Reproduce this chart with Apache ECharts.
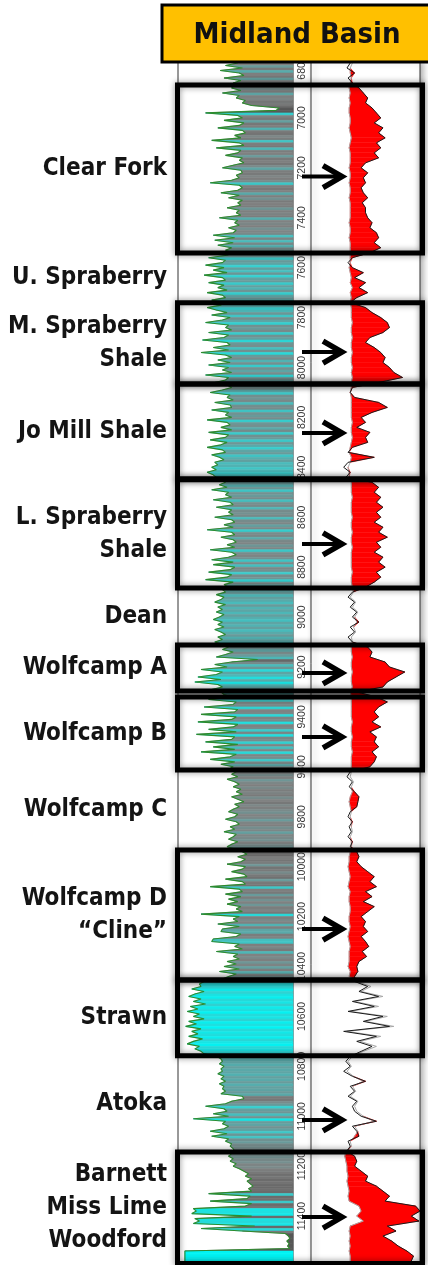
<!DOCTYPE html>
<html><head><meta charset="utf-8">
<script src="https://cdn.jsdelivr.net/npm/echarts@6/dist/echarts.min.js"></script>
<style>html,body{margin:0;padding:0;background:#fff}#c{width:428px;height:1265px}</style>
</head><body><div id="c"></div>
<script>
// ---------------- DATA ----------------
const TITLE = 'Midland Basin';
const GR_START = 6780, GR_STEP = 10;          // depth sampling of GR curve (ft)
const GR = [
 78,62,84,55,80,86,60,82,72,74,
 70,82,58,80,76,88,84,96,132,128,
 36,78,84,60,86,80,52,84,88,74,
 82,44,80,86,50,82,78,62,84,80,
 86,72,58,82,84,76,80,70,42,80,
 84,78,56,80,66,84,78,82,64,80,
 76,82,54,78,74,80,66,76,72,46,
 74,48,72,52,70,62,72,64,40,62,
 58,36,60,46,64,34,58,62,40,60,
 52,64,38,58,62,44,60,56,38,50,
 64,44,68,58,36,66,62,70,40,66,
 60,32,64,68,46,66,30,62,70,52,
 68,40,66,58,70,36,66,62,48,64,
 70,58,42,68,64,72,48,68,70,44,
 66,62,70,38,64,68,56,70,40,66,
 62,42,64,56,38,58,62,44,54,60,
 48,52,44,50,38,46,50,56,62,54,
 64,44,66,62,70,46,68,72,50,70,
 66,72,48,70,74,60,72,38,70,74,
 56,72,76,64,74,42,70,76,66,44,
 72,46,74,68,40,70,64,36,72,60,
 66,58,62,50,60,56,48,62,52,58,
 50,60,54,46,58,52,60,48,56,62,
 52,58,48,60,66,58,72,62,50,104,
 70,48,64,30,58,50,26,56,22,52,
 58,44,56,60,70,40,76,72,34,78,
 74,30,76,70,26,78,72,40,76,24,
 74,70,36,78,46,74,30,76,68,42,
 74,56,72,66,76,70,78,64,74,80,
 72,82,76,84,70,78,86,74,80,72,
 66,78,74,62,76,80,68,74,60,76,
 72,66,78,70,64,76,84,90,78,88,
 82,64,88,84,70,86,90,62,84,88,
 42,80,84,62,82,66,78,64,82,76,
 84,30,80,72,78,52,80,58,56,82,
 76,46,44,80,74,84,50,78,72,80,
 64,76,60,80,54,76,66,58,34,28,
 30,18,34,22,14,30,20,36,16,26,
 12,28,20,34,14,24,10,30,18,26,
 14,32,20,12,28,22,30,34,50,56,
 58,54,60,56,58,52,60,56,62,54,
 60,58,62,56,84,86,70,62,36,60,
 64,46,66,20,62,58,66,60,42,64,
 44,66,62,70,68,72,74,70,66,72,
 68,76,72,80,86,92,88,96,90,94,
 98,92,96,40,94,90,42,96,88,20,
 24,18,96,22,28,20,100,30,84,140,
 144,146,142,145,143,146,9,9,9,9,
 9
];
const RES_START = 6780, RES_STEP = 20;        // depth sampling of resistivity curves (ft)
const RES_DEEP = [
 36,33,40,34,38,44,48,52,50,56,
 60,64,58,66,62,68,60,64,58,62,
 50,46,52,48,50,46,48,52,47,50,
 50,52,56,54,60,62,58,64,54,38,
 34,38,48,40,50,44,52,42,36,50,
 56,64,70,72,66,54,50,58,64,68,
 66,72,76,84,62,38,36,40,62,70,
 56,46,50,42,54,50,52,38,34,58,
 34,30,36,32,56,62,58,64,60,66,
 60,64,58,66,62,70,60,64,58,66,
 62,68,60,64,58,50,38,34,40,36,
 42,38,44,36,40,34,38,52,56,54,
 68,72,86,78,70,66,42,60,70,62,
 58,62,56,64,54,60,58,62,56,60,
 58,54,36,33,38,35,40,44,43,42,
 36,34,38,35,37,34,38,36,42,44,
 42,46,52,58,54,60,50,56,48,58,
 52,46,50,48,52,46,50,53,47,51,
 44,42,43,40,40,52,44,62,38,58,
 34,66,48,72,30,60,42,56,46,36,
 32,36,30,38,50,36,40,34,42,38,
 40,46,60,38,42,44,34,36,33,40,
 42,40,46,52,50,60,66,72,68,96,
 100,92,99,70,78,66,74,80,88,94,
 92
];
const RES_BASE = [
 38,36,36,37,36,35,36,35,36,35,
 35,36,36,35,36,37,36,35,36,36,
 36,35,36,36,35,36,36,35,36,36,
 36,36,35,36,36,35,36,36,36,36,
 36,35,36,37,36,38,36,37,36,37,
 37,37,38,37,37,38,37,37,38,37,
 37,38,37,38,37,37,36,37,37,37,
 37,37,38,37,37,38,37,36,35,37,
 36,34,35,35,37,37,37,38,37,37,
 37,38,37,37,38,37,37,38,37,37,
 37,37,38,37,37,38,39,36,41,38,
 43,40,42,39,41,37,38,37,37,38,
 37,37,38,37,37,38,36,37,37,37,
 37,37,38,37,37,38,37,37,38,37,
 37,37,37,36,39,37,38,36,35,36,
 37,36,37,37,38,36,37,37,36,35,
 35,34,35,36,35,34,36,35,35,36,
 36,35,35,36,35,34,35,36,35,35,
 35,34,36,35,42,55,46,66,40,62,
 36,70,50,76,33,64,45,60,48,38,
 34,37,33,39,48,38,41,36,43,40,
 42,48,58,40,43,40,36,37,32,31,
 32,33,33,34,33,34,35,34,35,44,
 46,42,48,36,35,36,35,36,35,36,
 36
];
const DEPTH_TICKS = [6800,7000,7200,7400,7600,7800,8000,8200,8400,8600,8800,9000,
  9200,9400,9600,9800,10000,10200,10400,10600,10800,11000,11200,11400];
const FORMATIONS = ['Clear Fork','U. Spraberry','M. Spraberry\nShale','Jo Mill Shale',
  'L. Spraberry\nShale','Dean','Wolfcamp A','Wolfcamp B','Wolfcamp C',
  'Wolfcamp D\n\u201cCline\u201d','Strawn','Atoka','Barnett\nMiss Lime\nWoodford'];
const FORMATION_TOPS  = [6868,7541,7741,8066,8450,8883,9112,9320,9613,9933,10454,10758,11143];
const FORMATION_BASES = [7541,7741,8066,8446,8883,9112,9296,9613,9933,10454,10758,11143,11590];
const FORMATION_TARGET = [1,0,1,1,1,0,1,1,0,1,1,0,1];
const ARROW_DEPTHS = [7235,7938,8262,8707,9224,9480,10250,11015,11404];

// ---------------- LAYOUT / STYLE ----------------
const LAY = {top:62, height:1203, grLeft:178, grWidth:115, resLeft:311, resWidth:109,
  dMin:6776, dMax:11596, grMax:150, resMax:100,
  boxL:177.5, boxR:422.5, labelX:167, arrowX0:302, arrowTip:342};
const LABEL_FONT = 'bold 24px "DejaVu Sans Condensed", "DejaVu Sans", sans-serif';
const GR_STOPS = [[10,[0,244,244]],[25,[34,222,222]],[42,[60,200,200]],[55,[88,172,172]],
  [66,[115,145,145]],[78,[128,130,130]],[95,[108,108,108]],[130,[88,88,88]]];
function grColor(v){
  if (v <= GR_STOPS[0][0]) return 'rgb('+GR_STOPS[0][1].join(',')+')';
  for (let k=1;k<GR_STOPS.length;k++){
    if (v <= GR_STOPS[k][0]) {
      const a=GR_STOPS[k-1], b=GR_STOPS[k], t=(v-a[0])/(b[0]-a[0]);
      return 'rgb('+a[1].map((c,j)=>Math.round(c+(b[1][j]-c)*t)).join(',')+')';
    }
  }
  return 'rgb('+GR_STOPS[GR_STOPS.length-1][1].join(',')+')';
}
const grDepth = i => GR_START + i*GR_STEP;
const resDepth = i => RES_START + i*RES_STEP;

const grData = GR.map((v,i)=>[v, grDepth(i)]);
const deepData = RES_DEEP.map((v,i)=>[v, resDepth(i)]);
const baseData = RES_BASE.map((v,i)=>[v, resDepth(i)]);
const fmData = FORMATIONS.map((n,i)=>[0,(FORMATION_TOPS[i]+FORMATION_BASES[i])/2]);
const arrowData = ARROW_DEPTHS.map(d=>[0,d]);

const chart = echarts.init(document.getElementById('c'), null, {renderer:'canvas'});
chart.setOption({
  animation:false,
  backgroundColor:'#fff',
  grid:[
    {left:LAY.grLeft, top:LAY.top, width:LAY.grWidth, height:LAY.height, show:true,
     borderColor:'#333', borderWidth:1, backgroundColor:'#fff', outerBoundsMode:'none'},
    {left:LAY.resLeft, top:LAY.top, width:LAY.resWidth, height:LAY.height, show:true,
     borderColor:'#333', borderWidth:1, backgroundColor:'#fff', outerBoundsMode:'none',
     shadowColor:'rgba(0,0,0,0.3)', shadowBlur:6, shadowOffsetX:3}
  ],
  xAxis:[
    {gridIndex:0, type:'value', min:0, max:LAY.grMax, show:false},
    {gridIndex:1, type:'value', min:0, max:LAY.resMax, show:false}
  ],
  yAxis:[
    {gridIndex:0, type:'value', inverse:true, min:LAY.dMin, max:LAY.dMax, show:false},
    {gridIndex:1, type:'value', inverse:true, min:LAY.dMin, max:LAY.dMax, position:'left',
     axisLine:{show:false}, axisTick:{show:false}, splitLine:{show:false},
     axisLabel:{show:true, customValues:DEPTH_TICKS, rotate:90, margin:3,
       formatter:function(v){return String(v);},
       fontSize:10.5, fontFamily:'"Liberation Sans", Arial, sans-serif', color:'#3a3a3a'}}
  ],
  series:[
    { // GR shading between curve and right edge
      type:'custom', xAxisIndex:0, yAxisIndex:0, z:1, silent:true,
      data:grData, encode:{x:0,y:1},
      renderItem:function(params, api){
        const i = params.dataIndex;
        if (i >= GR.length-1) return null;
        const p0 = api.coord([GR[i], grDepth(i)]);
        const p1 = api.coord([GR[i+1], grDepth(i+1)]);
        const r0 = api.coord([LAY.grMax, grDepth(i)]);
        const r1 = api.coord([LAY.grMax, grDepth(i+1)]);
        const c = grColor(GR[i]);
        return {type:'polygon', shape:{points:[p0,r0,r1,p1]},
          style:{fill:c, stroke:c, lineWidth:0.6}};
      }
    },
    { type:'line', xAxisIndex:0, yAxisIndex:0, data:grData, z:3, silent:true,
      symbol:'none', lineStyle:{color:'#2e8b2e', width:1.1} },
    { // resistivity separation (red)
      type:'custom', xAxisIndex:1, yAxisIndex:1, z:1, silent:true,
      data:deepData, encode:{x:0,y:1},
      renderItem:function(params, api){
        const i = params.dataIndex;
        if (i >= RES_DEEP.length-1) return null;
        const b0 = RES_BASE[i], b1 = RES_BASE[i+1];
        const d0 = Math.max(RES_DEEP[i], b0), d1 = Math.max(RES_DEEP[i+1], b1);
        if (d0 <= b0 && d1 <= b1) return null;
        const pts = [api.coord([b0,resDepth(i)]), api.coord([d0,resDepth(i)]),
                     api.coord([d1,resDepth(i+1)]), api.coord([b1,resDepth(i+1)])];
        return {type:'polygon', shape:{points:pts}, style:{fill:'#ff0000', stroke:'#ff0000', lineWidth:0.5}};
      }
    },
    { type:'line', xAxisIndex:1, yAxisIndex:1, data:baseData, z:3, silent:true,
      symbol:'none', lineStyle:{color:'#a8a8a8', width:1} },
    { type:'line', xAxisIndex:1, yAxisIndex:1, data:deepData, z:4, silent:true,
      symbol:'none', lineStyle:{color:'#1a1a1a', width:1} },
    { // target-zone boxes
      type:'custom', xAxisIndex:0, yAxisIndex:0, z:10, silent:true, clip:false,
      data:fmData, encode:{x:0,y:1},
      renderItem:function(params, api){
        const i = params.dataIndex;
        if (!FORMATION_TARGET[i]) return null;
        const y0 = api.coord([0, FORMATION_TOPS[i]])[1];
        const y1 = api.coord([0, FORMATION_BASES[i]])[1];
        return {type:'rect', shape:{x:LAY.boxL, y:y0, width:LAY.boxR-LAY.boxL, height:y1-y0},
          style:{fill:'none', stroke:'#000', lineWidth:5, shadowBlur:6, shadowColor:'rgba(0,0,0,0.45)'}};
      }
    },
    { // formation names
      type:'custom', xAxisIndex:0, yAxisIndex:0, z:10, silent:true, clip:false,
      data:fmData, encode:{x:0,y:1},
      renderItem:function(params, api){
        const i = params.dataIndex;
        const y = api.coord([0, api.value(1)])[1];
        return {type:'text', x:LAY.labelX, y:y,
          style:{text:FORMATIONS[i], fill:'#141414', font:LABEL_FONT,
            align:'right', verticalAlign:'middle', textAlign:'right', textVerticalAlign:'middle', lineHeight:33}};
      }
    },
    { // arrows
      type:'custom', xAxisIndex:0, yAxisIndex:0, z:11, silent:true, clip:false,
      data:arrowData, encode:{x:0,y:1},
      renderItem:function(params, api){
        const y = api.coord([0, api.value(1)])[1];
        return {type:'group', children:[
          {type:'line', shape:{x1:LAY.arrowX0, y1:y, x2:LAY.arrowTip-3, y2:y},
           style:{stroke:'#000', lineWidth:4}},
          {type:'polyline', shape:{points:[[LAY.arrowTip-19,y-11],[LAY.arrowTip,y],[LAY.arrowTip-19,y+11]]},
           style:{stroke:'#000', lineWidth:5.5, fill:'none', lineJoin:'miter', lineCap:'butt'}}
        ]};
      }
    }
  ],
  graphic:[
    {type:'rect', z:100, shape:{x:162, y:5, width:280, height:57},
     style:{fill:'#FFC000', stroke:'#000', lineWidth:3}},
    {type:'text', z:101, x:297, y:35,
     style:{text:TITLE, font:'bold 29px "DejaVu Sans Condensed", "DejaVu Sans", sans-serif', fill:'#111',
       align:'center', verticalAlign:'middle', textAlign:'center', textVerticalAlign:'middle'}}
  ]
});
</script></body></html>
